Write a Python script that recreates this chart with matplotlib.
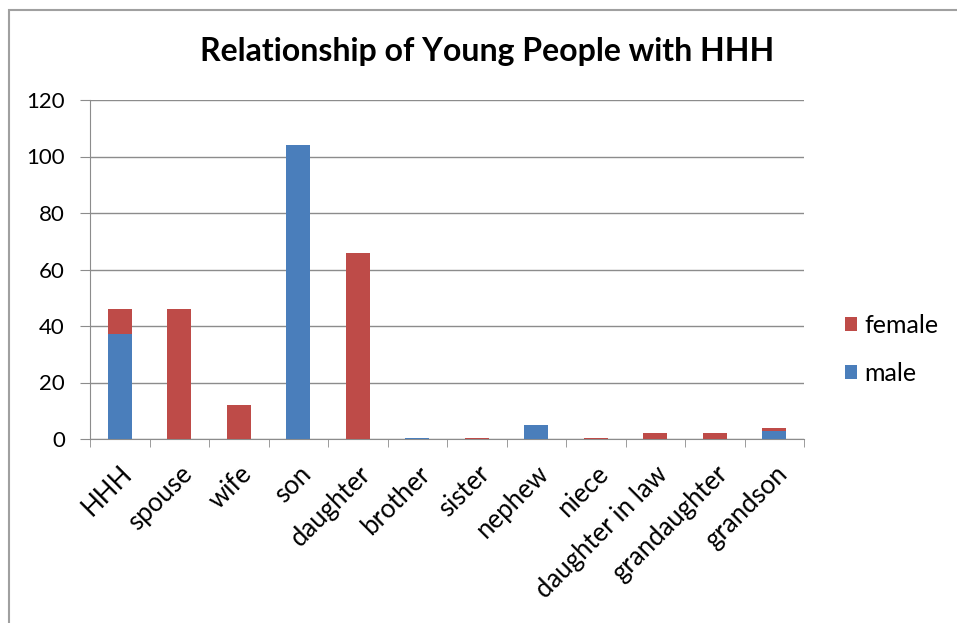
import matplotlib.pyplot as plt
import numpy as np
from matplotlib.patches import Rectangle

categories = ['HHH', 'spouse', 'wife', 'son', 'daughter', 'brother', 'sister',
              'nephew', 'niece', 'daughter in law', 'grandaughter', 'grandson']
male = [37, 0, 0, 104, 0, 0.5, 0, 5, 0, 0, 0, 3]
female = [9, 46, 12, 0, 66, 0, 0.5, 0, 0.5, 2, 2, 1]
yticks = [0, 20, 40, 60, 80, 100, 120]

blue = '#4a7ebb'
red = '#be4b48'

plt.rcParams['font.family'] = ['Lato', 'DejaVu Sans']

fig = plt.figure(figsize=(9.57, 6.23), dpi=100)
ax = fig.add_axes([90 / 957, 1 - 439 / 623, 714 / 957, 339 / 623])

x = np.arange(len(categories))
ax.bar(x, male, width=0.4, color=blue, label='male', zorder=3)
ax.bar(x, female, width=0.4, bottom=male, color=red, label='female', zorder=3)

ax.set_xlim(-0.5, len(categories) - 0.5)
ax.set_ylim(0, 120)
ax.set_yticks(yticks)
ax.yaxis.grid(True, color='#8c8c8c', linewidth=1.0, zorder=0)
ax.tick_params(axis='y', labelsize=16, length=7, color='#8c8c8c', pad=11)
ax.tick_params(axis='x', labelsize=18.5, length=0, pad=16)

ax.set_xticks(x)
ax.set_xticklabels(categories, rotation=45, ha='right', rotation_mode='anchor')
# category boundary ticks
ax.set_xticks(np.arange(-0.5, len(categories)), minor=True)
ax.tick_params(axis='x', which='minor', length=6, color='#8c8c8c')

for s in ['top', 'right']:
    ax.spines[s].set_visible(False)
ax.spines['left'].set_color('#8c8c8c')
ax.spines['bottom'].set_color('#8c8c8c')

handles, labels = ax.get_legend_handles_labels()
fig.legend(handles[::-1], labels[::-1], loc='center left',
           bbox_to_anchor=(822 / 957, 1 - 349 / 623), frameon=False,
           fontsize=18, handlelength=0.5, handleheight=0.5, handletextpad=0.3,
           labelspacing=1.0)

fig.text(487 / 957, 1 - 52 / 623, 'Relationship of Young People with HHH',
         ha='center', va='center', fontsize=23, fontweight='bold')

# screenshot border
fig.add_artist(Rectangle((9 / 957, -0.1), 1.1, 1 - 10 / 623 + 0.1,
                         transform=fig.transFigure, fill=False,
                         edgecolor='#a0a0a0', linewidth=1.5))

fig.savefig('out.png', dpi=100)
